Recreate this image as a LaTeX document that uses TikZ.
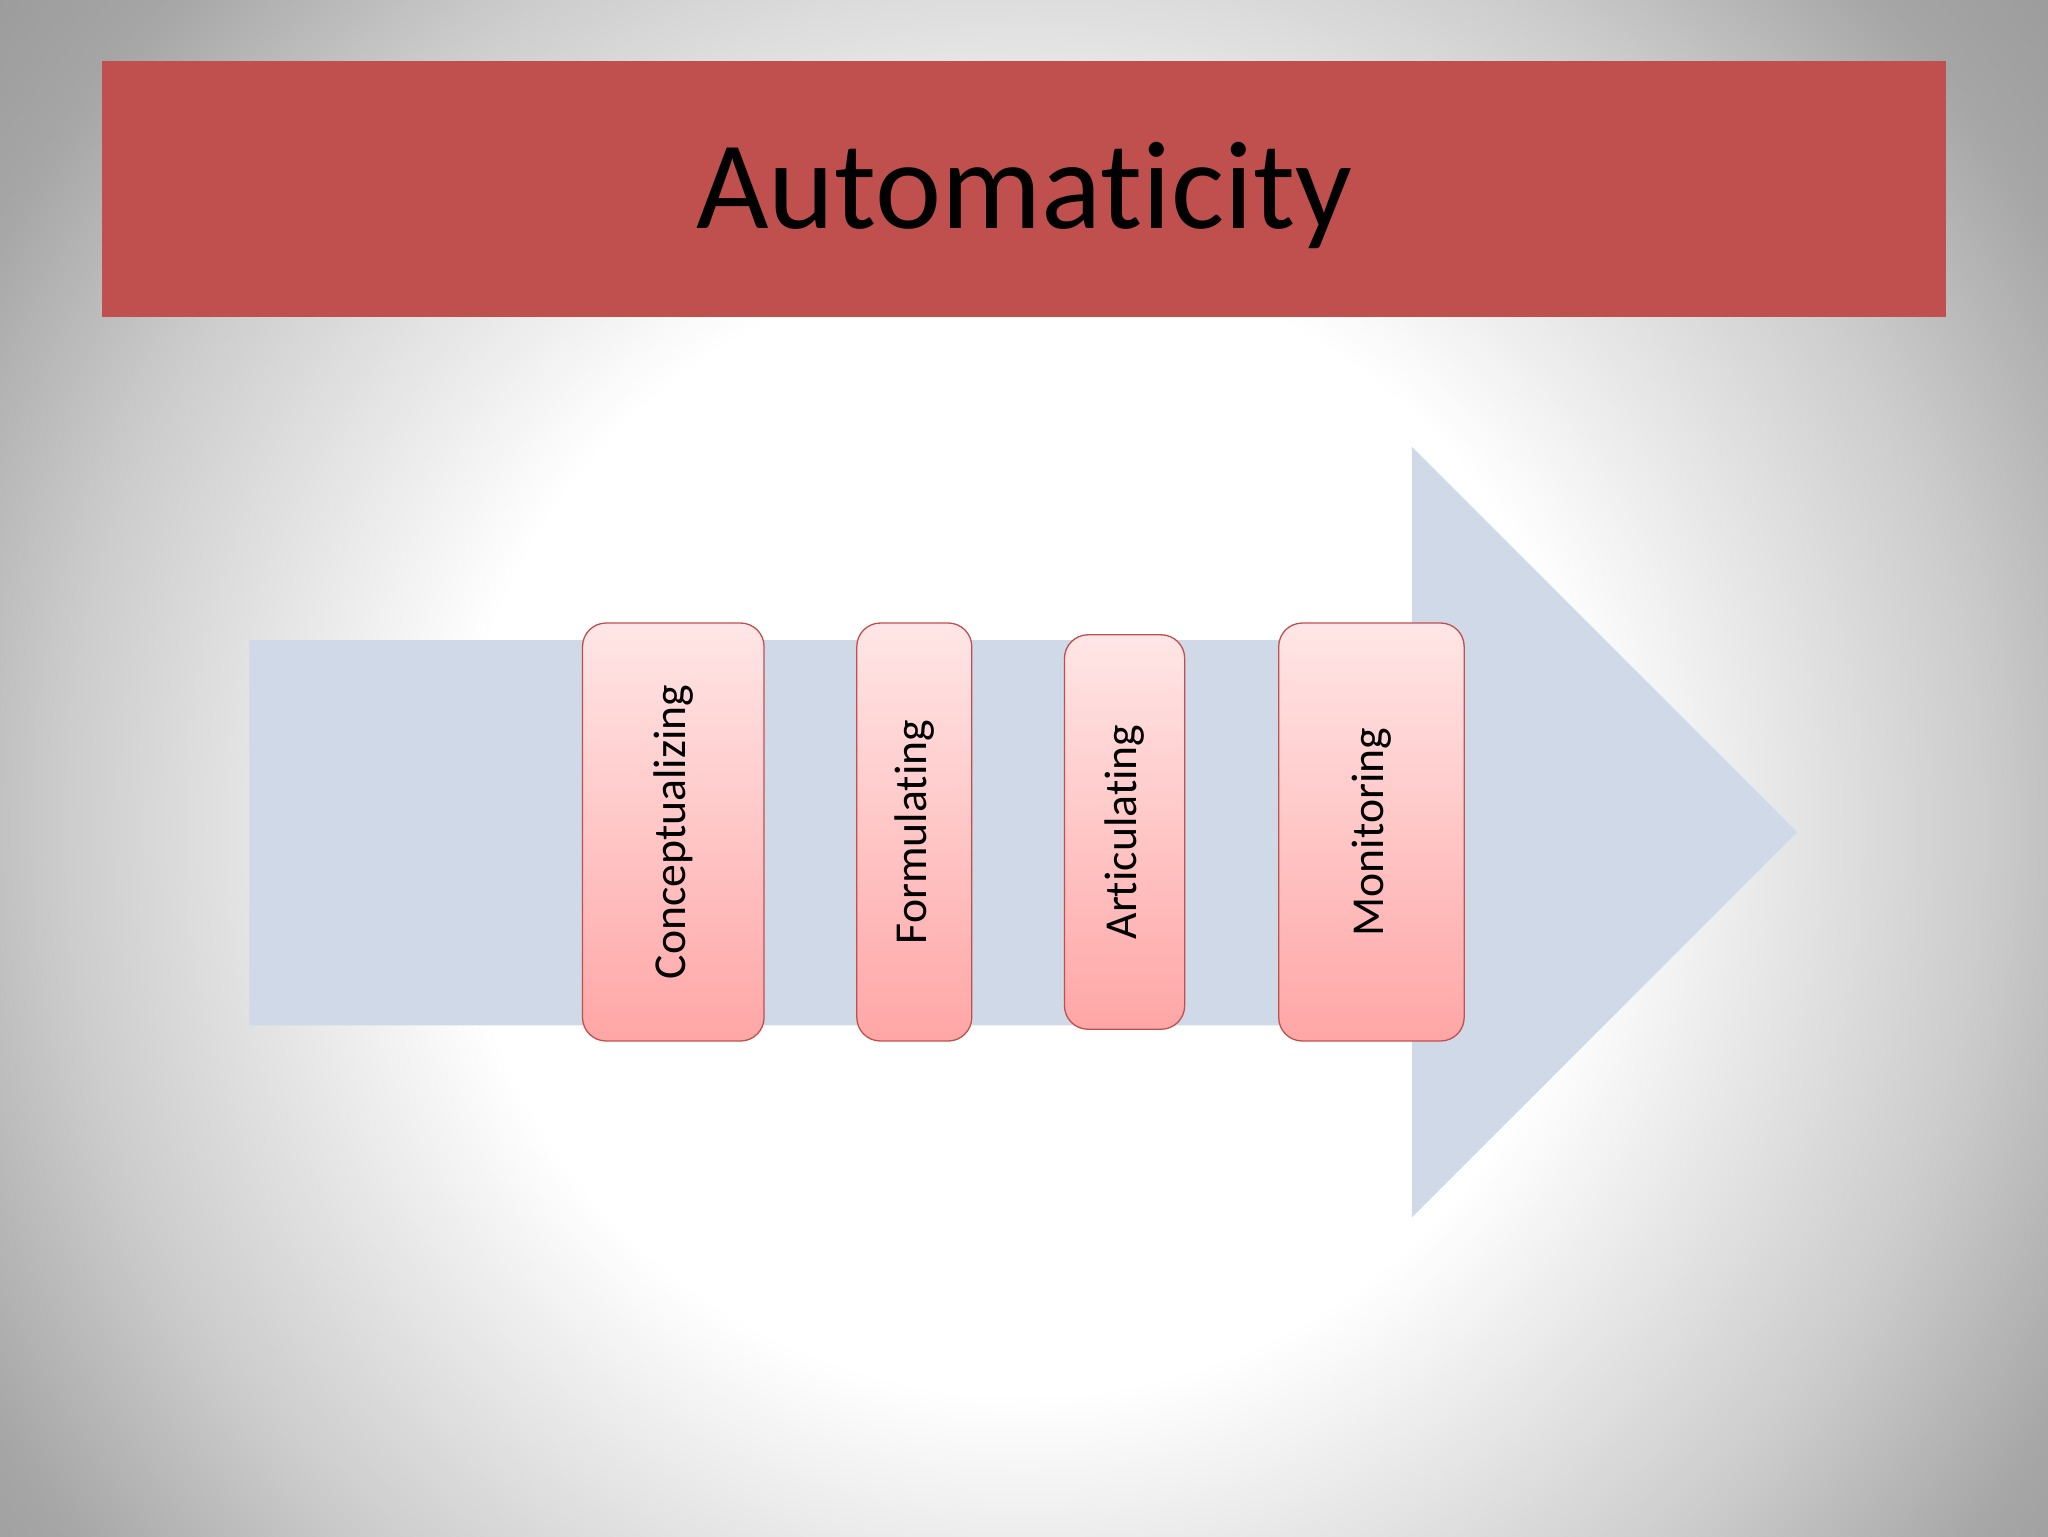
\documentclass[tikz,border=0pt]{standalone}
\usepackage{fontspec}
\setmainfont[Ligatures={NoCommon,NoRequired,NoContextual}]{Carlito}
\definecolor{titlered}{HTML}{C0504D}
\definecolor{arrowblue}{HTML}{D0D9E7}
\definecolor{boxtop}{HTML}{FFE6E6}
\definecolor{boxbot}{HTML}{FFA6A6}
\definecolor{boxline}{HTML}{C0504D}
\pgfdeclareradialshading{bgshade}{\pgfpoint{0bp}{0bp}}{color(0bp)=(white); color(10bp)=(white); color(17bp)=(black!20); color(21bp)=(black!35); color(27bp)=(black!45); color(50bp)=(black!50)}
\begin{document}
\begin{tikzpicture}[x=1pt,y=-1pt,
  stage/.style={draw=boxline, line width=1pt, rounded corners=18pt, top color=boxtop, bottom color=boxbot, minimum height=320pt, inner sep=0pt},
  stagetext/.style={rotate=90, font=\fontsize{35}{35}\selectfont}]
\useasboundingbox (0,0) rectangle (1568,1176);
\shade[shading=bgshade] (-300,-450) rectangle (1868,1718);
\node[fill=titlered, minimum width=1412pt, minimum height=196pt, inner sep=0pt] (title) at (784,145) {};
\node[font=\fontsize{96}{96}\selectfont] (tt) at (784,150) {Automaticity};
\fill[arrowblue] (191,490) -- (1081,490) -- (1081,342) -- (1376,637) -- (1081,932) -- (1081,785) -- (191,785) -- cycle;
\node[stage, minimum width=139pt] (c) at (515.5,637) {};
\node[stagetext] at (c) {Conceptualizing};
\node[stage, minimum width=88pt] (f) at (700,637) {};
\node[stagetext] at (f) {Formulating};
\node[stage, minimum width=92pt, minimum height=302pt] (a) at (861,637) {};
\node[stagetext] at (a) {Articulating};
\node[stage, minimum width=142pt] (m) at (1050,637) {};
\node[stagetext] at (m) {Monitoring};
\end{tikzpicture}
\end{document}
